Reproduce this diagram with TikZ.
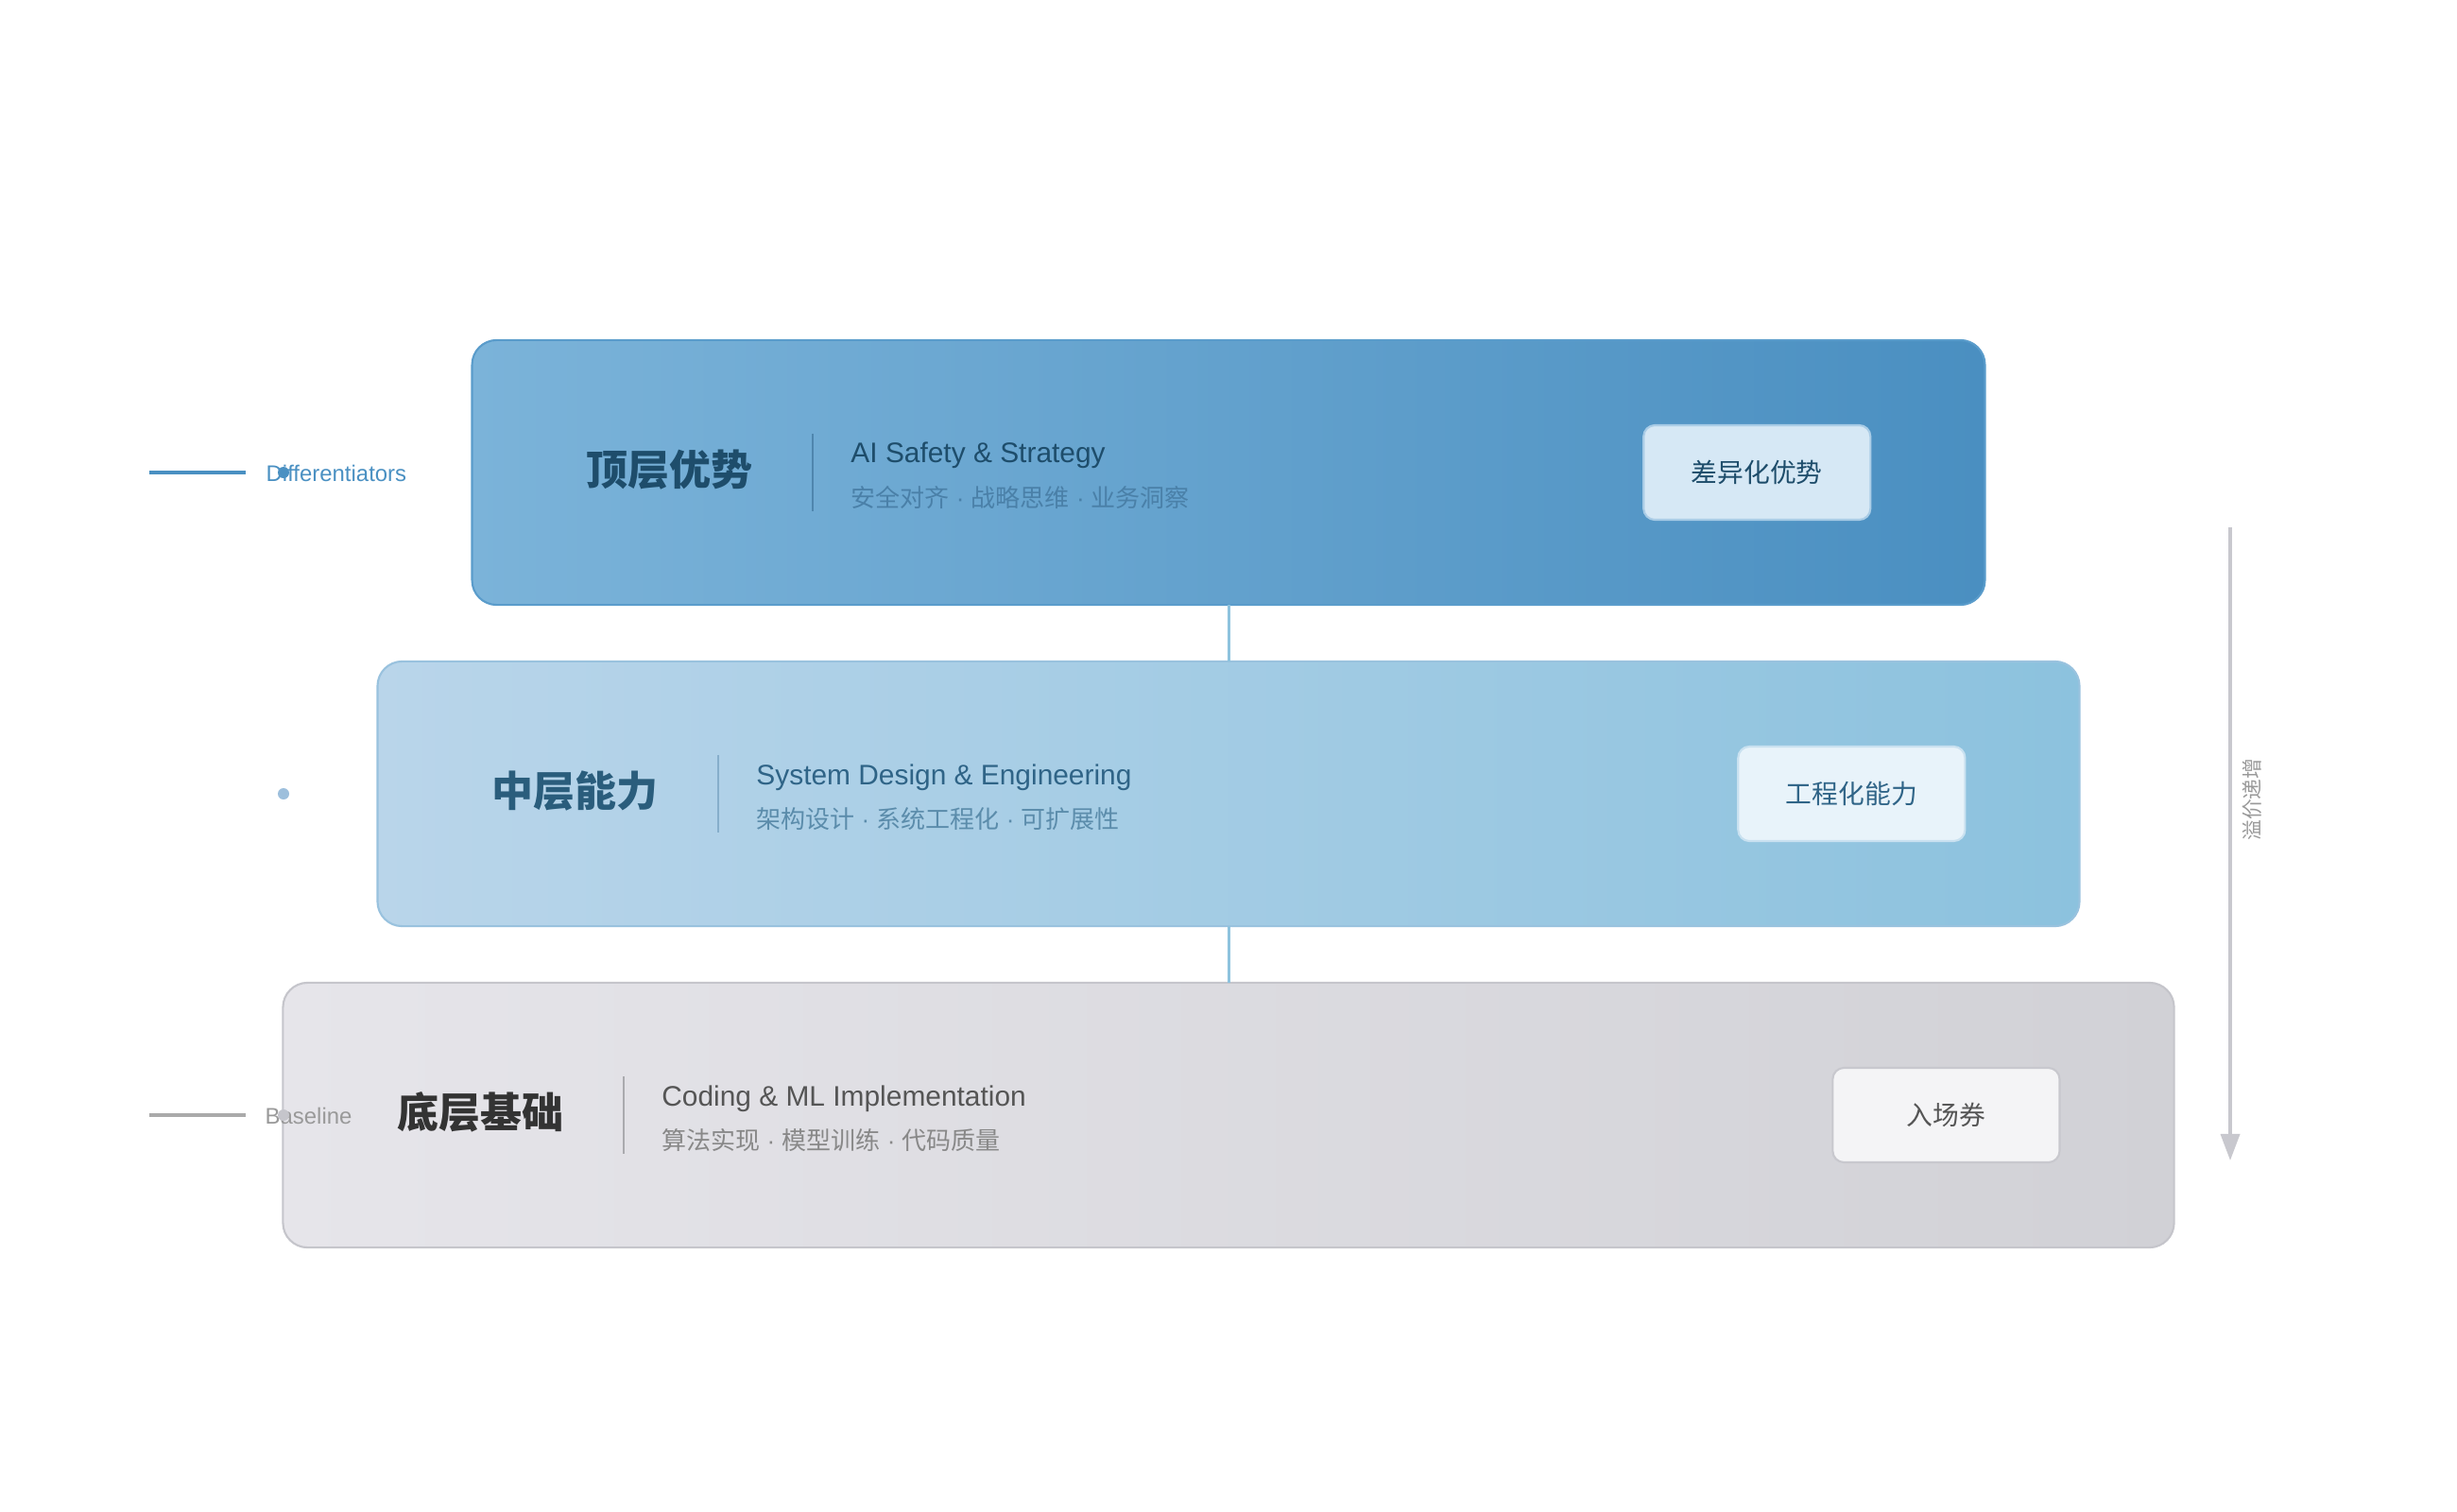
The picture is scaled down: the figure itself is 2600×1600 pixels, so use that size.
\documentclass[tikz,border=0pt]{standalone}
\usepackage{fontspec}
\setmainfont{Liberation Sans}
\newfontfamily\cjk{Noto Sans CJK SC}
\usepackage{xcolor}
\usetikzlibrary{arrows.meta, calc, positioning}

\newcommand{\dotsep}{{\rmfamily\ ·\ }}

\definecolor{topleft}{HTML}{7BB3D9}
\definecolor{topright}{HTML}{4A8FC1}
\definecolor{topedge}{HTML}{5A9CCB}
\definecolor{topink}{HTML}{1E4D6B}
\definecolor{topsub}{HTML}{4A80A8}
\definecolor{topdiv}{HTML}{4F86AE}
\definecolor{topbadgefill}{HTML}{D6E8F5}
\definecolor{topbadgeedge}{HTML}{A9CCE6}
\definecolor{midleft}{HTML}{B9D5EA}
\definecolor{midright}{HTML}{8CC2DE}
\definecolor{midedge}{HTML}{99C2DE}
\definecolor{midtitle}{HTML}{2A5D7C}
\definecolor{midink}{HTML}{2F6487}
\definecolor{midsub}{HTML}{5B8CAB}
\definecolor{middiv}{HTML}{86AECB}
\definecolor{midbadgefill}{HTML}{E8F3FA}
\definecolor{midbadgeedge}{HTML}{C9E1F0}
\definecolor{botleft}{HTML}{E6E5EA}
\definecolor{botright}{HTML}{D1D1D6}
\definecolor{botedge}{HTML}{C5C5CB}
\definecolor{botink}{HTML}{555555}
\definecolor{botsub}{HTML}{888888}
\definecolor{botdiv}{HTML}{AAAAAE}
\definecolor{botbadgefill}{HTML}{F4F4F6}
\definecolor{botbadgeedge}{HTML}{C8C8CE}
\definecolor{linkblue}{HTML}{8EC3DE}
\definecolor{markblue}{HTML}{4A90C2}
\definecolor{markpale}{HTML}{9DBFDC}
\definecolor{markgray}{HTML}{AAAAAA}
\definecolor{valgray}{HTML}{C8C8CE}

\begin{document}
\begin{tikzpicture}[
		x=0.01cm, y=-0.01cm,
		layer/.style={draw, line width=0.6pt, rounded corners=0.26cm, minimum height=2.8cm, inner sep=0pt, outer sep=0pt},
		badge/.style={draw, line width=0.6pt, rounded corners=0.12cm, minimum width=2.4cm, minimum height=1cm, inner sep=0pt, anchor=east, font=\cjk\fontsize{7.9pt}{9pt}\selectfont},
		title/.style={anchor=west, inner sep=0pt, font=\cjk\bfseries\fontsize{12.5pt}{15pt}\selectfont},
		entext/.style={anchor=base west, inner sep=0pt, font=\fontsize{8.5pt}{10pt}\selectfont},
		zhtext/.style={anchor=base west, inner sep=0pt, font=\cjk\fontsize{7.4pt}{9pt}\selectfont},
		divider/.style={line width=0.55pt},
		link/.style={draw=linkblue, line width=0.85pt},
		sidelabel/.style={anchor=base west, inner sep=0pt, font=\fontsize{6.8pt}{8pt}\selectfont},
		sidedot/.style={circle, inner sep=0pt, minimum size=0.12cm},
		>=Triangle
		]

		\useasboundingbox (0,0) rectangle (2600,1600);

		% --- Couches ---
		\node[layer, minimum width=16cm, draw=topedge, left color=topleft, right color=topright] (top) at (1300,500) {};
		\node[layer, minimum width=18cm, draw=midedge, left color=midleft, right color=midright] (mid) at (1300,840) {};
		\node[layer, minimum width=20cm, draw=botedge, left color=botleft, right color=botright] (bot) at (1300,1180) {};

		\draw[link] (top.south) -- (mid.north);
		\draw[link] (mid.south) -- (bot.north);

		% --- Couche du haut ---
		\node[title, text=topink] (toptitle) at ([xshift=1.2cm, yshift=0.03cm]top.west) {顶层优势};
		\draw[divider, draw=topdiv] ([xshift=3.6cm, yshift=0.41cm]top.west) -- ([xshift=3.6cm, yshift=-0.41cm]top.west);
		\node[entext, text=topink] (topen) at ([xshift=4cm, yshift=0.1cm]top.west) {AI Safety \& Strategy};
		\node[zhtext, text=topsub] (topzh) at ([xshift=4cm, yshift=-0.36cm]top.west) {安全对齐\dotsep 战略思维\dotsep 业务洞察};
		\node[badge, fill=topbadgefill, draw=topbadgeedge, text=topink] (topbadge) at ([xshift=-1.2cm]top.east) {差异化优势};

		% --- Couche du milieu ---
		\node[title, text=midtitle] (midtitle) at ([xshift=1.2cm, yshift=0.03cm]mid.west) {中层能力};
		\draw[divider, draw=middiv] ([xshift=3.6cm, yshift=0.41cm]mid.west) -- ([xshift=3.6cm, yshift=-0.41cm]mid.west);
		\node[entext, text=midink] (miden) at ([xshift=4cm, yshift=0.1cm]mid.west) {System Design \& Engineering};
		\node[zhtext, text=midsub] (midzh) at ([xshift=4cm, yshift=-0.36cm]mid.west) {架构设计\dotsep 系统工程化\dotsep 可扩展性};
		\node[badge, fill=midbadgefill, draw=midbadgeedge, text=midink] (midbadge) at ([xshift=-1.2cm]mid.east) {工程化能力};

		% --- Couche du bas ---
		\node[title, text=black!80] (bottitle) at ([xshift=1.2cm, yshift=0.03cm]bot.west) {底层基础};
		\draw[divider, draw=botdiv] ([xshift=3.6cm, yshift=0.41cm]bot.west) -- ([xshift=3.6cm, yshift=-0.41cm]bot.west);
		\node[entext, text=botink] (boten) at ([xshift=4cm, yshift=0.1cm]bot.west) {Coding \& ML Implementation};
		\node[zhtext, text=botsub] (botzh) at ([xshift=4cm, yshift=-0.36cm]bot.west) {算法实现\dotsep 模型训练\dotsep 代码质量};
		\node[badge, fill=botbadgefill, draw=botbadgeedge, text=botink] (botbadge) at ([xshift=-1.2cm]bot.east) {入场券};

		% --- Repères à gauche ---
		\coordinate (toplineA) at (158,500);
		\coordinate (toplineB) at (260,500);
		\draw[markblue, line width=1.1pt] (toplineA) -- (toplineB);
		\node[sidelabel, text=markblue] (toplabel) at (281,509) {Differentiators};
		\node[sidedot, fill=markblue] (topdot) at (300,500) {};

		\node[sidedot, fill=markpale] (middot) at (300,840) {};

		\coordinate (botlineA) at (158,1180);
		\coordinate (botlineB) at (260,1180);
		\draw[markgray, line width=1.1pt] (botlineA) -- (botlineB);
		\node[sidelabel, text=black!40] (botlabel) at (280,1189) {Baseline};
		\node[sidedot, fill=botedge] (botdot) at (300,1180) {};

		% --- Flèche de valeur ---
		\coordinate (valtop) at (2360,558);
		\coordinate (valbot) at (2360,1228);
		\draw[->, valgray, line width=1pt, >={Triangle[length=0.28cm, width=0.2cm]}] (valtop) -- (valbot);
		\node[rotate=90, inner sep=0pt, text=black!40, font=\cjk\fontsize{6.2pt}{7pt}\selectfont] (vallabel) at (2383,846) {溢价递增};

	\end{tikzpicture}
\end{document}
